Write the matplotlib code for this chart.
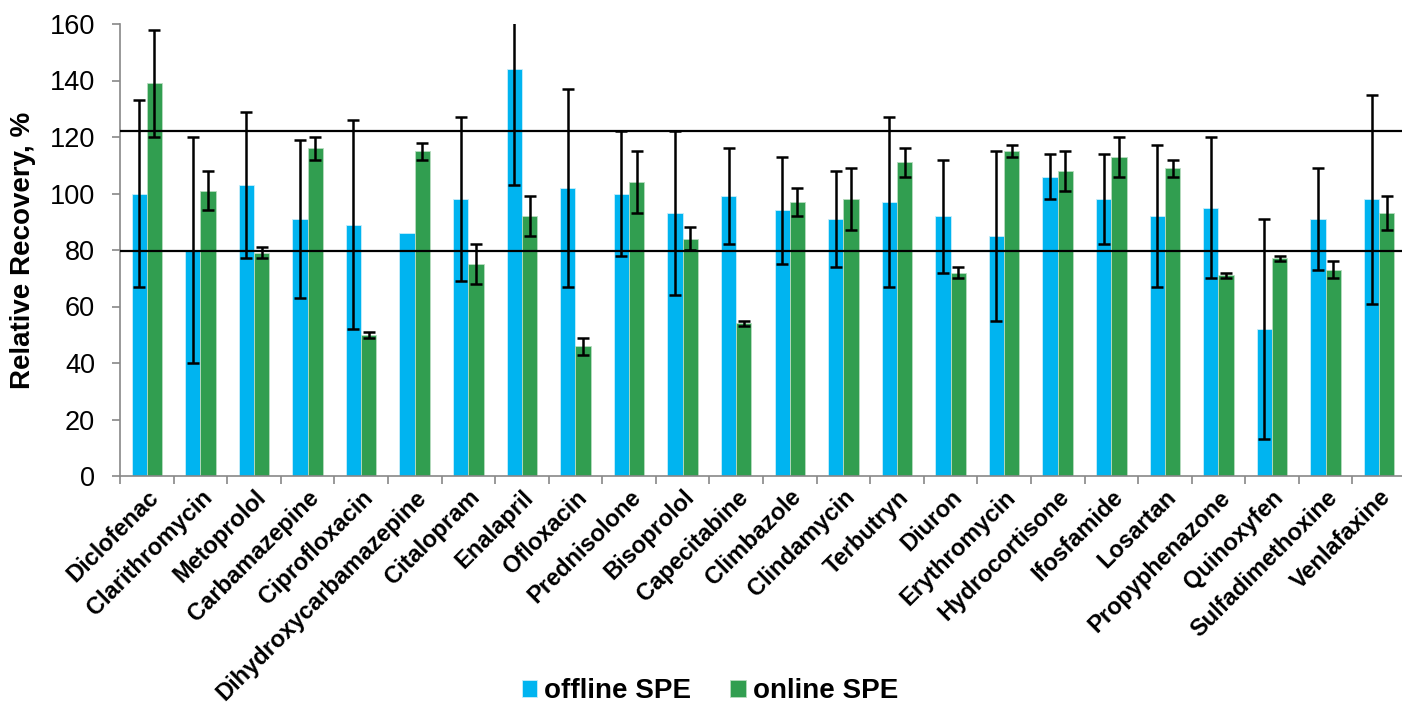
import numpy as np
import matplotlib.pyplot as plt

plt.rcParams["font.family"] = ["Liberation Sans", "DejaVu Sans"]

compounds = ["Diclofenac", "Clarithromycin", "Metoprolol", "Carbamazepine", "Ciprofloxacin",
             "Dihydroxycarbamazepine", "Citalopram", "Enalapril", "Ofloxacin", "Prednisolone",
             "Bisoprolol", "Capecitabine", "Climbazole", "Clindamycin", "Terbutryn", "Diuron",
             "Erythromycin", "Hydrocortisone", "Ifosfamide", "Losartan", "Propyphenazone",
             "Quinoxyfen", "Sulfadimethoxine", "Venlafaxine"]

offline = [100, 80, 103, 91, 89, 86, 98, 144, 102, 100, 93, 99,
           94, 91, 97, 92, 85, 106, 98, 92, 95, 52, 91, 98]
# no error bar is drawn for Dihydroxycarbamazepine (offline)
offline_err = [33, 40, 26, 28, 37, np.nan, 29, 41, 35, 22, 29, 17,
               19, 17, 30, 20, 30, 8, 16, 25, 25, 39, 18, 37]

online = [139, 101, 79, 116, 50, 115, 75, 92, 46, 104, 84, 54,
          97, 98, 111, 72, 115, 108, 113, 109, 71, 77, 73, 93]
online_err = [19, 7, 2, 4, 1, 3, 7, 7, 3, 11, 4, 1,
              5, 11, 5, 2, 2, 7, 7, 3, 1, 1, 3, 6]

limits = [79.5, 122]

x = np.arange(len(compounds))
w = 0.285

fig = plt.figure(figsize=(14.02, 7.06), dpi=100)
ax = fig.add_axes([120 / 1402, 1 - 476 / 706, 1286 / 1402, 452 / 706])

err_kw = dict(ecolor="black", elinewidth=1.8, capsize=4, capthick=1.8)
ax.bar(x - w / 2, offline, w, yerr=offline_err, color="#00B4F0",
       edgecolor="#c8eefa", linewidth=0.6, label="offline SPE", error_kw=err_kw, zorder=2)
ax.bar(x + w / 2, online, w, yerr=online_err, color="#319E50",
       edgecolor="#b8dcc0", linewidth=0.6, label="online SPE", error_kw=err_kw, zorder=2)

for lim in limits:
    ax.axhline(lim, color="black", lw=1.6, zorder=3)

ax.set_xlim(-0.5, len(compounds) - 0.5)
ax.set_ylim(0, 160)
ax.set_yticks(range(0, 161, 20))
ax.tick_params(axis="y", labelsize=19.5, color="#888888", length=6, width=1.2,
               direction="out", pad=12)

ax.set_xticks(x)
ax.set_xticklabels(compounds, rotation=45, ha="right", rotation_mode="anchor",
                   fontsize=17, fontweight="bold")
ax.tick_params(axis="x", which="major", length=0, pad=7)
ax.set_xticks(np.arange(-0.5, len(compounds), 1), minor=True)
ax.tick_params(axis="x", which="minor", length=6, width=1.2, color="#888888")

for side in ["top", "right"]:
    ax.spines[side].set_visible(False)
for side in ["left", "bottom"]:
    ax.spines[side].set_color("#888888")
    ax.spines[side].set_linewidth(1.2)

ax.set_ylabel("Relative Recovery, %", fontsize=20, fontweight="bold", labelpad=10)

fig.legend(loc="center", bbox_to_anchor=(710 / 1402, 15 / 706), ncol=2, frameon=False,
           prop={"size": 20, "weight": "bold"}, handlelength=0.55, handleheight=0.55,
           handletextpad=0.25, columnspacing=1.4)

fig.savefig("out.png", dpi=100)
